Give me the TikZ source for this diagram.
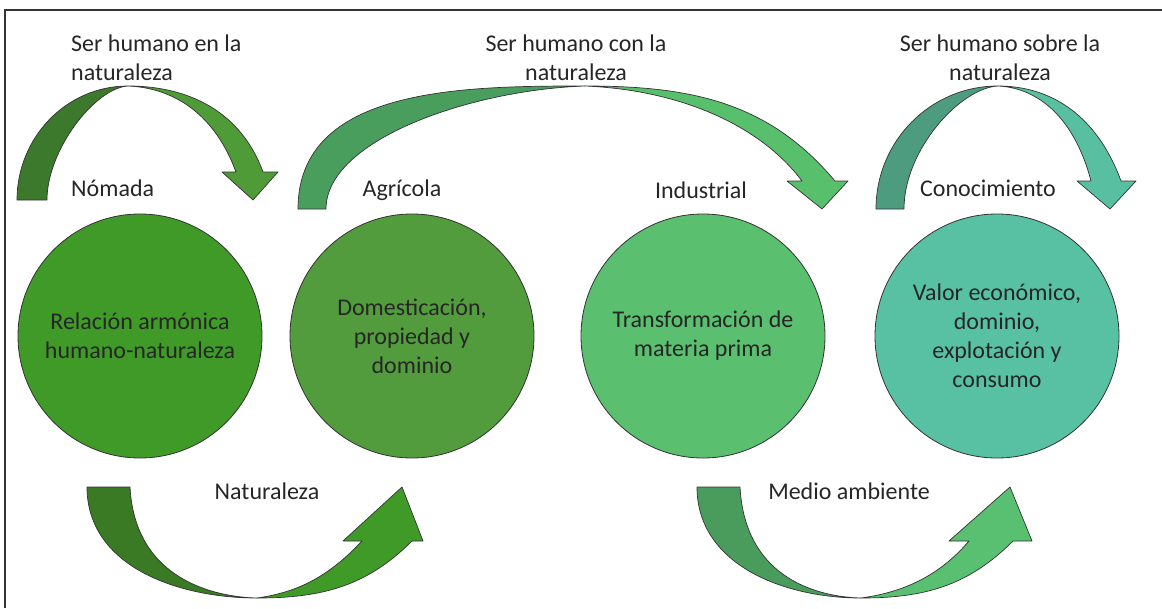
\documentclass[tikz,border=0pt]{standalone}
\usepackage{fontspec}
\setmainfont{Carlito}

\definecolor{verdeA}{RGB}{63,154,40}
\definecolor{verdeB}{RGB}{82,156,61}
\definecolor{verdeC}{RGB}{90,191,110}
\definecolor{verdeD}{RGB}{89,193,163}
\definecolor{oscA}{RGB}{60,121,44}
\definecolor{claA}{RGB}{79,155,56}
\definecolor{oscB}{RGB}{73,158,94}
\definecolor{claB}{RGB}{88,191,108}
\definecolor{oscC}{RGB}{77,156,128}
\definecolor{claC}{RGB}{88,192,160}
\definecolor{oscD}{RGB}{58,122,36}
\definecolor{claD}{RGB}{63,154,39}
\definecolor{oscE}{RGB}{74,156,92}
\definecolor{claE}{RGB}{88,192,112}

\tikzset{
  etapa/.style={circle,draw=black!80,line width=0.8pt,minimum size=244pt,
    inner sep=0pt,align=center,text=black!85},
  rotulo/.style={align=center,text=black!85,inner sep=0pt},
  flecha/.style={draw=black!80,line width=0.7pt,line join=round}
}

\begin{document}
\begin{tikzpicture}[x=1pt,y=1pt,font=\fontsize{24}{29}\selectfont]
\useasboundingbox (0,0) rectangle (1162,-608);
\draw[line width=1.2pt,black!80] (5,-608) -- (5,-10) -- (1162,-10);
% circulos
\node[etapa,fill=verdeA] (nomada) at (140,-336) {Relación armónica\\humano-naturaleza};
\node[etapa,fill=verdeB] (agricola) at (412,-336) {Domesticación,\\propiedad y\\dominio};
\node[etapa,fill=verdeC] (industrial) at (703,-336) {Transformación de\\materia prima};
\node[etapa,fill=verdeD] (conocimiento) at (997,-336) {Valor económico,\\dominio,\\explotación y\\consumo};
% flechas de arriba
\filldraw[flecha,fill=claA] (128,-86) to[out=0,in=110] (263,-172) -- (278,-172) -- (253,-200)
  -- (222,-172) -- (236,-172) .. controls (215,-115) and (175,-88) .. (128,-86) -- cycle;
\filldraw[flecha,fill=oscA] (17,-200) to[out=90,in=180] (128,-86)
  .. controls (95,-88) and (47,-150) .. (47,-200) -- cycle;
\filldraw[flecha,fill=claB] (585,-86) to[out=0,in=130] (835,-181) -- (848,-181) -- (822,-209)
  -- (787,-181) -- (802,-181) .. controls (760,-125) and (680,-90) .. (585,-86) -- cycle;
\filldraw[flecha,fill=oscB] (298,-209) to[out=90,in=180] (585,-86)
  .. controls (470,-90) and (326,-140) .. (326,-209) -- cycle;
\filldraw[flecha,fill=claC] (998,-86) to[out=0,in=110] (1121,-181) -- (1136,-181) -- (1110,-209)
  -- (1077,-181) -- (1091,-181) .. controls (1075,-120) and (1040,-88) .. (998,-86) -- cycle;
\filldraw[flecha,fill=oscC] (876,-209) to[out=90,in=180] (998,-86)
  .. controls (960,-88) and (904,-150) .. (904,-209) -- cycle;
% flechas de abajo
\filldraw[flecha,fill=claD] (257,-598) to[out=0,in=225] (412,-541) -- (423,-541) -- (402,-487)
  -- (343,-541) -- (362,-541) .. controls (330,-575) and (300,-592) .. (257,-598) -- cycle;
\filldraw[flecha,fill=oscD] (87,-487) to[out=-90,in=180] (257,-598)
  .. controls (215,-597) and (135,-580) .. (130,-487) -- cycle;
\filldraw[flecha,fill=claE] (861,-598) to[out=0,in=225] (1013,-541) -- (1032,-541) -- (1010,-487)
  -- (949,-541) -- (969,-541) .. controls (940,-575) and (905,-592) .. (861,-598) -- cycle;
\filldraw[flecha,fill=oscE] (697,-487) to[out=-90,in=180] (861,-598)
  .. controls (820,-597) and (745,-580) .. (740,-487) -- cycle;
% textos
\node[rotulo,align=left,anchor=west] (enla) at (71,-58) {Ser humano en la\\naturaleza};
\node[rotulo] (conla) at (576,-58) {Ser humano con la\\naturaleza};
\node[rotulo] (sobrela) at (1000,-58) {Ser humano sobre la\\naturaleza};
\node[rotulo,anchor=west] (lbnomada) at (71,-188) {Nómada};
\node[rotulo] (lbagricola) at (402,-190) {Agrícola};
\node[rotulo] (lbindustrial) at (701,-190) {Industrial};
\node[rotulo] (lbconocimiento) at (988,-188) {Conocimiento};
\node[rotulo] (naturaleza) at (267,-491) {Naturaleza};
\node[rotulo] (medio) at (849,-491) {Medio ambiente};
\end{tikzpicture}
\end{document}
